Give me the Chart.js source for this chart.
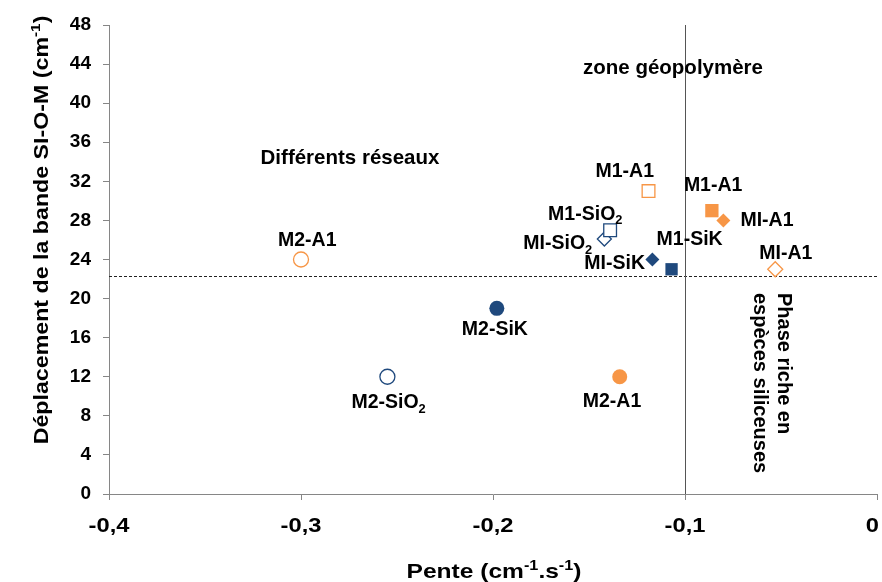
<!DOCTYPE html>
<html>
<head>
<meta charset="utf-8">
<script src="https://cdn.jsdelivr.net/npm/chart.js@4.4.0/dist/chart.umd.min.js"></script>
<style>
    html, body { margin: 0; padding: 0; background: #fff; }
    #wrap { width: 882px; height: 582px; }
</style>
</head>
<body>
<div id="wrap"><canvas id="chart" width="882" height="582"></canvas></div>
<script>
// Data
const names  = ['M2-A1', 'M2-SiK', 'M2-SiO2', 'M2-A1', 'M1-A1', 'M1-SiO2', 'MI-SiO2', 'MI-SiK', 'M1-SiK', 'M1-A1', 'MI-A1', 'MI-A1'];
const slopes = [-0.300, -0.198, -0.255, -0.134, -0.119, -0.139, -0.142, -0.117, -0.107, -0.086, -0.080, -0.053];
const shifts = [24.0, 19.0, 12.0, 12.0, 31.0, 27.0, 26.1, 24.0, 23.0, 29.0, 28.0, 23.0];

const xTickValues = [-0.4, -0.3, -0.2, -0.1, 0];
const xTickLabels = ['-0,4', '-0,3', '-0,2', '-0,1', '0'];
const yTickLabels = ['0', '4', '8', '12', '16', '20', '24', '28', '32', '36', '40', '44', '48'];

// Reference lines separating zones
const zoneSlope = -0.1;
const zoneShift = 22.3;

// Marker styles (one per point)
const ORANGE = '#F79646';
const NAVY = '#1F497D';
const shapes = ['circle', 'circle', 'circle', 'circle', 'rect', 'rect', 'rectRot', 'rectRot', 'rect', 'rect', 'rectRot', 'rectRot'];
const colors = [ORANGE, NAVY, NAVY, ORANGE, ORANGE, NAVY, NAVY, NAVY, NAVY, ORANGE, ORANGE, ORANGE];
const filled = [false, true, false, true, false, false, false, true, true, true, true, false];
const radii  = [7.5, 7.5, 7.5, 7.5, 9, 9, 7, 7, 8.7, 9.4, 7, 7.5];

// label placement: offset of left edge / vertical middle from the marker
const labelOffsets = [
    [-23, -19], [-35, 21], [-36, 26], [-37, 25], [-53, -19], [-62, -16],
    [-81, 5], [-68, 4], [-15, -30], [-28, -25], [17, 0], [-16, -16]
];

const FAMILY = '"Liberation Sans", Arial, Helvetica, sans-serif';

function splitName(name) {
    // SiO2 gets a subscript 2
    if (name.endsWith('SiO2')) return [[name.slice(0, -1), ''], ['2', 'sub']];
    return [[name, '']];
}

// draws bold text made of normal / sub / sup parts, sx stretches it horizontally
function drawRich(ctx, parts, x, y, size, align, sx = 1) {
    const small = size * 0.66;
    let total = 0;
    parts.forEach(([t, k]) => {
        ctx.font = `bold ${k ? small : size}px ${FAMILY}`;
        total += ctx.measureText(t).width;
    });
    ctx.save();
    ctx.translate(x, y);
    ctx.scale(sx, 1);
    let cx = align === 'center' ? -total / 2 : (align === 'right' ? -total : 0);
    ctx.textAlign = 'left';
    ctx.textBaseline = 'middle';
    parts.forEach(([t, k]) => {
        ctx.font = `bold ${k ? small : size}px ${FAMILY}`;
        const dy = k === 'sub' ? size * 0.32 : (k === 'sup' ? -size * 0.3 : 0);
        ctx.fillText(t, cx, dy);
        cx += ctx.measureText(t).width;
    });
    ctx.restore();
}

const zonesPlugin = {
    id: 'zones',
    beforeDatasetsDraw(chart) {
        const { ctx, chartArea, scales } = chart;
        const xp = scales.x.getPixelForValue(zoneSlope);
        const yp = scales.y.getPixelForValue(zoneShift);
        ctx.save();
        ctx.strokeStyle = '#222';
        ctx.lineWidth = 1;
        ctx.setLineDash([3, 2]);
        ctx.beginPath();
        ctx.moveTo(chartArea.left, Math.round(yp) + 0.5);
        ctx.lineTo(chartArea.right, Math.round(yp) + 0.5);
        ctx.stroke();
        ctx.setLineDash([]);
        ctx.strokeStyle = '#555';
        ctx.beginPath();
        ctx.moveTo(Math.round(xp) + 0.5, chartArea.top);
        ctx.lineTo(Math.round(xp) + 0.5, chartArea.bottom);
        ctx.stroke();
        ctx.restore();
    },
    afterDatasetsDraw(chart) {
        const { ctx, scales, chartArea } = chart;
        ctx.save();
        ctx.fillStyle = '#000';

        // point labels
        names.forEach((name, i) => {
            const px = scales.x.getPixelForValue(slopes[i]);
            const py = scales.y.getPixelForValue(shifts[i]);
            drawRich(ctx, splitName(name), px + labelOffsets[i][0], py + labelOffsets[i][1], 19.5, 'left');
        });

        // zone annotations
        drawRich(ctx, [['zone géopolymère', '']], 673, 68, 20.5, 'center');
        drawRich(ctx, [['Différents réseaux', '']], 350, 158, 20.5, 'center');

        ctx.save();
        ctx.translate(772, 293);
        ctx.rotate(Math.PI / 2);
        drawRich(ctx, [['Phase riche en', '']], 0, -12, 20, 'left');
        drawRich(ctx, [['espèces siliceuses', '']], 0, 12, 20, 'left');
        ctx.restore();

        // x tick labels (the last one is kept inside the canvas)
        xTickValues.forEach((v, i) => {
            const last = i === xTickValues.length - 1;
            const px = scales.x.getPixelForValue(v);
            drawRich(ctx, [[xTickLabels[i], '']], last ? chart.width - 3 : px, chartArea.bottom + 32, 21,
                last ? 'right' : 'center', 1.13);
        });

        // axis titles
        drawRich(ctx, [['Pente (cm', ''], ['-1', 'sup'], ['.s', ''], ['-1', 'sup'], [')', '']], 494, 572, 21, 'center', 1.17);
        ctx.translate(42, 230);
        ctx.rotate(-Math.PI / 2);
        drawRich(ctx, [['Déplacement de la bande SI-O-M (cm', ''], ['-1', 'sup'], [')', '']], 0, 0, 20, 'center', 1.16);
        ctx.restore();
    }
};

const datasets = names.map((name, i) => ({
    label: name,
    data: [{ x: slopes[i], y: shifts[i] }],
    pointStyle: shapes[i],
    pointRadius: radii[i],
    pointHoverRadius: radii[i],
    borderColor: colors[i],
    backgroundColor: filled[i] ? colors[i] : '#fff',
    pointBorderWidth: filled[i] ? 0 : 1.3
}));

Chart.defaults.font.family = FAMILY;

new Chart(document.getElementById('chart').getContext('2d'), {
    type: 'scatter',
    data: { datasets },
    options: {
        responsive: false,
        devicePixelRatio: 1,
        animation: false,
        layout: { autoPadding: false, padding: { left: 0, right: 5, top: 25, bottom: 0 } },
        plugins: {
            legend: { display: false },
            tooltip: { enabled: false }
        },
        scales: {
            x: {
                type: 'linear',
                min: -0.4,
                max: 0,
                afterFit: scale => { scale.height = 88; },
                afterBuildTicks: scale => {
                    scale.ticks = xTickValues.map(v => ({ value: v }));
                },
                ticks: { display: false },
                grid: { drawOnChartArea: false, color: '#868686', tickLength: 6 },
                border: { color: '#868686' }
            },
            y: {
                min: 0,
                max: 48,
                afterFit: scale => { scale.width = 109; },
                afterBuildTicks: scale => {
                    scale.ticks = yTickLabels.map(t => ({ value: Number(t) }));
                },
                ticks: {
                    color: '#000',
                    font: { size: 19, weight: 'bold' },
                    padding: 12,
                    callback: (v, i) => yTickLabels[i]
                },
                grid: { drawOnChartArea: false, color: '#868686', tickLength: 6 },
                border: { color: '#868686' }
            }
        }
    },
    plugins: [zonesPlugin]
});
</script>
</body>
</html>
